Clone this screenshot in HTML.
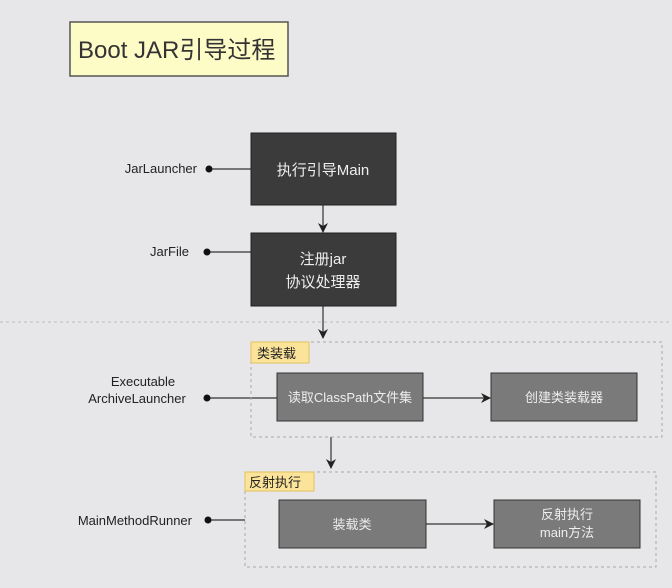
<!DOCTYPE html>
<html><head><meta charset="utf-8"><style>
body{margin:0;width:672px;height:588px;background:#e7e7e9;overflow:hidden;font-family:"Liberation Sans","Noto Sans CJK SC",sans-serif}
</style></head><body>
<svg width="672" height="588" xmlns="http://www.w3.org/2000/svg" style="position:absolute;left:0;top:0">
<defs><marker id="a" markerWidth="10" markerHeight="10" refX="9" refY="5" orient="auto" markerUnits="userSpaceOnUse"><path d="M0,0 L10,5 L0,10 L3,5 z" fill="#222"/></marker></defs>
<rect x="70" y="22" width="218" height="54" fill="#fdfbc6" stroke="#555" stroke-width="1.5"/>
<text x="78" y="58" font-size="24" fill="#333" font-family="Liberation Sans,Noto Sans CJK SC,sans-serif">Boot JAR引导过程</text>
<line x1="0" y1="322" x2="672" y2="322" stroke="#bbb" stroke-dasharray="3,3"/>
<g font-size="13" fill="#222" font-family="Liberation Sans,Noto Sans CJK SC,sans-serif">
<text x="197" y="173" text-anchor="end">JarLauncher</text>
<text x="189" y="256" text-anchor="end">JarFile</text>
<text x="143" y="386" text-anchor="middle">Executable</text>
<text x="137" y="403" text-anchor="middle">ArchiveLauncher</text>
<text x="192" y="525" text-anchor="end">MainMethodRunner</text>
</g>
<g stroke="#333" stroke-width="1.2">
<line x1="209" y1="169" x2="251" y2="169"/><line x1="207" y1="252" x2="251" y2="252"/>
<line x1="207" y1="398" x2="277" y2="398"/><line x1="208" y1="520" x2="245" y2="520"/>
<line x1="323" y1="205" x2="323" y2="232" marker-end="url(#a)"/>
<line x1="323" y1="306" x2="323" y2="338" marker-end="url(#a)"/>
<line x1="331" y1="437" x2="331" y2="468" marker-end="url(#a)"/>
<line x1="423" y1="398" x2="490" y2="398" marker-end="url(#a)"/>
<line x1="426" y1="524" x2="493" y2="524" marker-end="url(#a)"/>
</g>
<g fill="#111"><circle cx="209" cy="169" r="3.5"/><circle cx="207" cy="252" r="3.5"/><circle cx="207" cy="398" r="3.5"/><circle cx="208" cy="520" r="3.5"/></g>
<rect x="251" y="133" width="145" height="72" fill="#3b3b3b" stroke="#222"/>
<rect x="251" y="233" width="145" height="73" fill="#3b3b3b" stroke="#222"/>
<g font-size="15" fill="#eee" text-anchor="middle" font-family="Liberation Sans,Noto Sans CJK SC,sans-serif">
<text x="323" y="175">执行引导Main</text>
<text x="323" y="264">注册jar</text><text x="323" y="287">协议处理器</text></g>
<rect x="251" y="342" width="411" height="95" fill="none" stroke="#aaa" stroke-dasharray="3,3"/>
<rect x="245" y="472" width="411" height="95" fill="none" stroke="#aaa" stroke-dasharray="3,3"/>
<rect x="251" y="342" width="58" height="21" fill="#fbe49a" stroke="#e0c060"/>
<rect x="245" y="472" width="69" height="19" fill="#fbe49a" stroke="#e0c060"/>
<g font-size="13" fill="#222" font-family="Liberation Sans,Noto Sans CJK SC,sans-serif"><text x="257" y="358">类装载</text><text x="249" y="487">反射执行</text></g>
<g fill="#7a7a7a" stroke="#333"><rect x="277" y="373" width="146" height="48"/><rect x="491" y="373" width="146" height="48"/><rect x="279" y="500" width="147" height="48"/><rect x="494" y="500" width="146" height="48"/></g>
<g font-size="13" fill="#eee" text-anchor="middle" font-family="Liberation Sans,Noto Sans CJK SC,sans-serif">
<text x="350" y="402">读取ClassPath文件集</text><text x="564" y="402">创建类装载器</text>
<text x="352" y="529">装载类</text><text x="567" y="519">反射执行</text><text x="567" y="537">main方法</text></g>
</svg>
</body></html>
